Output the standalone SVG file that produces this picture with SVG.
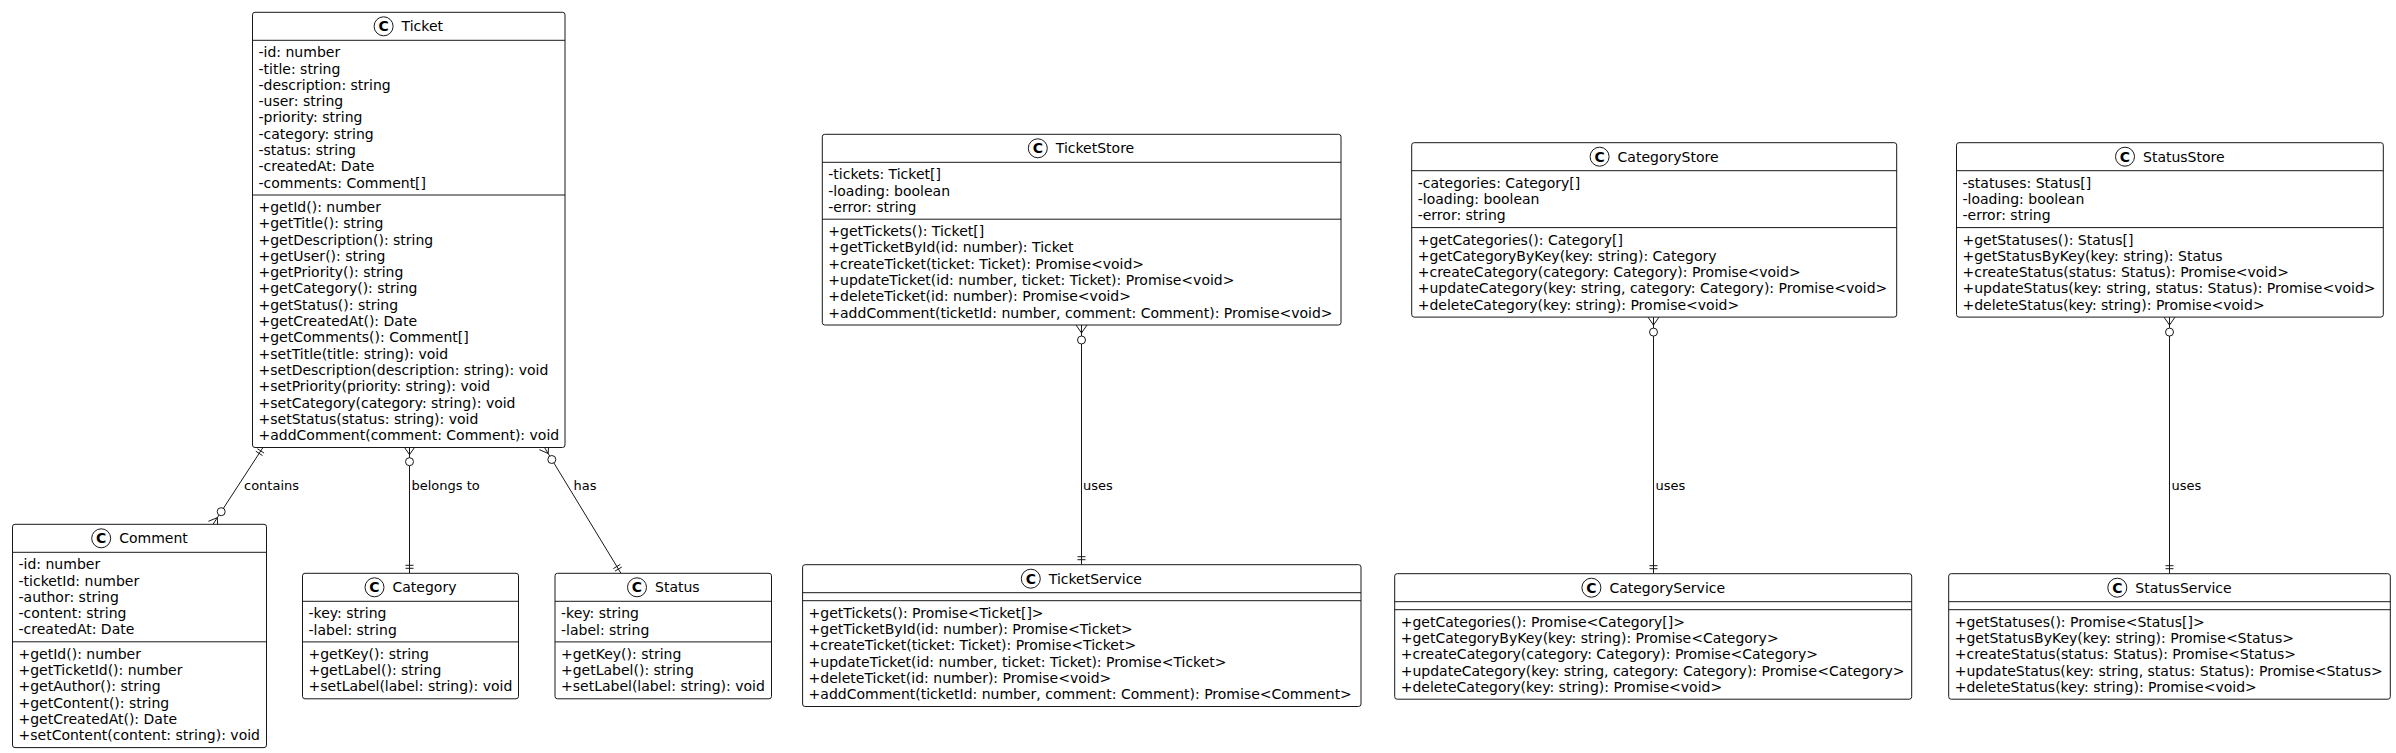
<svg xmlns="http://www.w3.org/2000/svg" width="2396" height="753" viewBox="0 0 2396 753">
<style>
.box{fill:#fff;stroke:#181818;stroke-width:1}
.sep{stroke:#181818;stroke-width:1}
.ic{fill:#fff;stroke:#181818;stroke-width:1}
.icl{font-family:"DejaVu Sans",sans-serif;font-size:14px;font-weight:bold;fill:#000;text-anchor:middle}
.ttl{font-family:"DejaVu Sans",sans-serif;font-size:14px;fill:#000}
.m{font-family:"DejaVu Sans",sans-serif;font-size:14px;fill:#000}
.lbl{font-family:"DejaVu Sans",sans-serif;font-size:13px;fill:#000}
.ln{stroke:#181818;stroke-width:1;fill:none}
.cir{fill:#fff;stroke:#181818;stroke-width:1}
</style>
<rect width="2396" height="753" fill="#fff"/>

<g id="connectors">
  <!-- contains -->
  <line class="ln" x1="263.5" y1="446.7" x2="213" y2="524.3"/>
  <line class="ln" x1="217.4" y1="517.6" x2="217.6" y2="527.3"/>
  <line class="ln" x1="217.4" y1="517.6" x2="208.4" y2="521.3"/>
  <circle class="cir" cx="221.2" cy="511.7" r="4"/>
  <line class="ln" x1="257.4" y1="448.7" x2="264.1" y2="453.1"/>
  <line class="ln" x1="255.8" y1="451.2" x2="262.5" y2="455.6"/>
  <text class="lbl" x="244" y="490">contains</text>

  <!-- belongs to -->
  <line class="ln" x1="409.5" y1="446.7" x2="409.5" y2="573.3"/>
  <line class="ln" x1="409.5" y1="454.7" x2="404" y2="446.7"/>
  <line class="ln" x1="409.5" y1="454.7" x2="415" y2="446.7"/>
  <circle class="cir" cx="409.5" cy="461.7" r="4"/>
  <line class="ln" x1="405.5" y1="568.3" x2="413.5" y2="568.3"/>
  <line class="ln" x1="405.5" y1="565.3" x2="413.5" y2="565.3"/>
  <text class="lbl" x="411.5" y="490">belongs to</text>

  <!-- has -->
  <line class="ln" x1="544" y1="446.7" x2="621" y2="573.3"/>
  <line class="ln" x1="548.2" y1="453.5" x2="548.7" y2="443.8"/>
  <line class="ln" x1="548.2" y1="453.5" x2="539.3" y2="449.6"/>
  <circle class="cir" cx="551.8" cy="459.5" r="4"/>
  <line class="ln" x1="615" y1="571.1" x2="621.8" y2="567"/>
  <line class="ln" x1="613.4" y1="568.6" x2="620.3" y2="564.4"/>
  <text class="lbl" x="573.5" y="490">has</text>

  <!-- TicketStore uses TicketService -->
  <line class="ln" x1="1081.5" y1="325" x2="1081.5" y2="564.7"/>
  <line class="ln" x1="1081.5" y1="333" x2="1076" y2="325"/>
  <line class="ln" x1="1081.5" y1="333" x2="1087" y2="325"/>
  <circle class="cir" cx="1081.5" cy="340" r="4"/>
  <line class="ln" x1="1077.5" y1="559.7" x2="1085.5" y2="559.7"/>
  <line class="ln" x1="1077.5" y1="556.7" x2="1085.5" y2="556.7"/>
  <text class="lbl" x="1083" y="490">uses</text>

  <!-- CategoryStore uses CategoryService -->
  <line class="ln" x1="1653.5" y1="317.1" x2="1653.5" y2="573.7"/>
  <line class="ln" x1="1653.5" y1="325.1" x2="1648" y2="317.1"/>
  <line class="ln" x1="1653.5" y1="325.1" x2="1659" y2="317.1"/>
  <circle class="cir" cx="1653.5" cy="332.1" r="4"/>
  <line class="ln" x1="1649.5" y1="568.7" x2="1657.5" y2="568.7"/>
  <line class="ln" x1="1649.5" y1="565.7" x2="1657.5" y2="565.7"/>
  <text class="lbl" x="1655.5" y="490">uses</text>

  <!-- StatusStore uses StatusService -->
  <line class="ln" x1="2169.5" y1="317.1" x2="2169.5" y2="573.7"/>
  <line class="ln" x1="2169.5" y1="325.1" x2="2164" y2="317.1"/>
  <line class="ln" x1="2169.5" y1="325.1" x2="2175" y2="317.1"/>
  <circle class="cir" cx="2169.5" cy="332.1" r="4"/>
  <line class="ln" x1="2165.5" y1="568.7" x2="2173.5" y2="568.7"/>
  <line class="ln" x1="2165.5" y1="565.7" x2="2173.5" y2="565.7"/>
  <text class="lbl" x="2171.5" y="490">uses</text>
</g>

<g id="Ticket" transform="translate(252.5,12.3)">
  <rect class="box" x="0" y="0" width="312.5" height="435.2" rx="2.5"/>
  <line class="sep" x1="0" y1="28" x2="312.5" y2="28"/>
  <line class="sep" x1="0" y1="182.7" x2="312.5" y2="182.7"/>
  <circle class="ic" cx="131.1" cy="14" r="9.5"/>
  <text class="icl" x="131.1" y="19">C</text>
  <text class="ttl" x="149.1" y="19">Ticket</text>
  <text class="m" x="6" y="45">-id: number</text>
  <text class="m" x="6" y="61.3">-title: string</text>
  <text class="m" x="6" y="77.6">-description: string</text>
  <text class="m" x="6" y="93.9">-user: string</text>
  <text class="m" x="6" y="110.2">-priority: string</text>
  <text class="m" x="6" y="126.5">-category: string</text>
  <text class="m" x="6" y="142.8">-status: string</text>
  <text class="m" x="6" y="159.1">-createdAt: Date</text>
  <text class="m" x="6" y="175.4">-comments: Comment[]</text>
  <text class="m" x="6" y="199.7">+getId(): number</text>
  <text class="m" x="6" y="216">+getTitle(): string</text>
  <text class="m" x="6" y="232.3">+getDescription(): string</text>
  <text class="m" x="6" y="248.6">+getUser(): string</text>
  <text class="m" x="6" y="264.9">+getPriority(): string</text>
  <text class="m" x="6" y="281.2">+getCategory(): string</text>
  <text class="m" x="6" y="297.5">+getStatus(): string</text>
  <text class="m" x="6" y="313.8">+getCreatedAt(): Date</text>
  <text class="m" x="6" y="330.1">+getComments(): Comment[]</text>
  <text class="m" x="6" y="346.4">+setTitle(title: string): void</text>
  <text class="m" x="6" y="362.7">+setDescription(description: string): void</text>
  <text class="m" x="6" y="379">+setPriority(priority: string): void</text>
  <text class="m" x="6" y="395.3">+setCategory(category: string): void</text>
  <text class="m" x="6" y="411.6">+setStatus(status: string): void</text>
  <text class="m" x="6" y="427.9">+addComment(comment: Comment): void</text>
</g>

<g id="Comment" transform="translate(12.5,524.3)">
  <rect class="box" x="0" y="0" width="254" height="223.3" rx="2.5"/>
  <line class="sep" x1="0" y1="28" x2="254" y2="28"/>
  <line class="sep" x1="0" y1="117.5" x2="254" y2="117.5"/>
  <circle class="ic" cx="88.7" cy="14" r="9.5"/>
  <text class="icl" x="88.7" y="19">C</text>
  <text class="ttl" x="106.7" y="19">Comment</text>
  <text class="m" x="6" y="45">-id: number</text>
  <text class="m" x="6" y="61.3">-ticketId: number</text>
  <text class="m" x="6" y="77.6">-author: string</text>
  <text class="m" x="6" y="93.9">-content: string</text>
  <text class="m" x="6" y="110.2">-createdAt: Date</text>
  <text class="m" x="6" y="134.5">+getId(): number</text>
  <text class="m" x="6" y="150.8">+getTicketId(): number</text>
  <text class="m" x="6" y="167.1">+getAuthor(): string</text>
  <text class="m" x="6" y="183.4">+getContent(): string</text>
  <text class="m" x="6" y="199.7">+getCreatedAt(): Date</text>
  <text class="m" x="6" y="216">+setContent(content: string): void</text>
</g>

<g id="Category" transform="translate(302.5,573.3)">
  <rect class="box" x="0" y="0" width="216" height="125.5" rx="2.5"/>
  <line class="sep" x1="0" y1="28" x2="216" y2="28"/>
  <line class="sep" x1="0" y1="68.6" x2="216" y2="68.6"/>
  <circle class="ic" cx="72" cy="14" r="9.5"/>
  <text class="icl" x="72" y="19">C</text>
  <text class="ttl" x="90" y="19">Category</text>
  <text class="m" x="6" y="45">-key: string</text>
  <text class="m" x="6" y="61.3">-label: string</text>
  <text class="m" x="6" y="85.6">+getKey(): string</text>
  <text class="m" x="6" y="101.9">+getLabel(): string</text>
  <text class="m" x="6" y="118.2">+setLabel(label: string): void</text>
</g>

<g id="Status" transform="translate(555,573.3)">
  <rect class="box" x="0" y="0" width="216.5" height="125.5" rx="2.5"/>
  <line class="sep" x1="0" y1="28" x2="216.5" y2="28"/>
  <line class="sep" x1="0" y1="68.6" x2="216.5" y2="68.6"/>
  <circle class="ic" cx="82" cy="14" r="9.5"/>
  <text class="icl" x="82" y="19">C</text>
  <text class="ttl" x="100" y="19">Status</text>
  <text class="m" x="6" y="45">-key: string</text>
  <text class="m" x="6" y="61.3">-label: string</text>
  <text class="m" x="6" y="85.6">+getKey(): string</text>
  <text class="m" x="6" y="101.9">+getLabel(): string</text>
  <text class="m" x="6" y="118.2">+setLabel(label: string): void</text>
</g>

<g id="TicketStore" transform="translate(822.3,134.3)">
  <rect class="box" x="0" y="0" width="518.7" height="190.7" rx="2.5"/>
  <line class="sep" x1="0" y1="28" x2="518.7" y2="28"/>
  <line class="sep" x1="0" y1="84.9" x2="518.7" y2="84.9"/>
  <circle class="ic" cx="215.5" cy="14" r="9.5"/>
  <text class="icl" x="215.5" y="19">C</text>
  <text class="ttl" x="233.5" y="19">TicketStore</text>
  <text class="m" x="6" y="45">-tickets: Ticket[]</text>
  <text class="m" x="6" y="61.3">-loading: boolean</text>
  <text class="m" x="6" y="77.6">-error: string</text>
  <text class="m" x="6" y="101.9">+getTickets(): Ticket[]</text>
  <text class="m" x="6" y="118.2">+getTicketById(id: number): Ticket</text>
  <text class="m" x="6" y="134.5">+createTicket(ticket: Ticket): Promise&lt;void&gt;</text>
  <text class="m" x="6" y="150.8">+updateTicket(id: number, ticket: Ticket): Promise&lt;void&gt;</text>
  <text class="m" x="6" y="167.1">+deleteTicket(id: number): Promise&lt;void&gt;</text>
  <text class="m" x="6" y="183.4">+addComment(ticketId: number, comment: Comment): Promise&lt;void&gt;</text>
</g>

<g id="TicketService" transform="translate(802.6,564.7)">
  <rect class="box" x="0" y="0" width="558.4" height="141.8" rx="2.5"/>
  <line class="sep" x1="0" y1="28" x2="558.4" y2="28"/>
  <line class="sep" x1="0" y1="36" x2="558.4" y2="36"/>
  <circle class="ic" cx="228.2" cy="14" r="9.5"/>
  <text class="icl" x="228.2" y="19">C</text>
  <text class="ttl" x="246.2" y="19">TicketService</text>
  <text class="m" x="6" y="53">+getTickets(): Promise&lt;Ticket[]&gt;</text>
  <text class="m" x="6" y="69.3">+getTicketById(id: number): Promise&lt;Ticket&gt;</text>
  <text class="m" x="6" y="85.6">+createTicket(ticket: Ticket): Promise&lt;Ticket&gt;</text>
  <text class="m" x="6" y="101.9">+updateTicket(id: number, ticket: Ticket): Promise&lt;Ticket&gt;</text>
  <text class="m" x="6" y="118.2">+deleteTicket(id: number): Promise&lt;void&gt;</text>
  <text class="m" x="6" y="134.5">+addComment(ticketId: number, comment: Comment): Promise&lt;Comment&gt;</text>
</g>

<g id="CategoryStore" transform="translate(1411.7,142.7)">
  <rect class="box" x="0" y="0" width="485" height="174.4" rx="2.5"/>
  <line class="sep" x1="0" y1="28" x2="485" y2="28"/>
  <line class="sep" x1="0" y1="84.9" x2="485" y2="84.9"/>
  <circle class="ic" cx="187.9" cy="14" r="9.5"/>
  <text class="icl" x="187.9" y="19">C</text>
  <text class="ttl" x="205.9" y="19">CategoryStore</text>
  <text class="m" x="6" y="45">-categories: Category[]</text>
  <text class="m" x="6" y="61.3">-loading: boolean</text>
  <text class="m" x="6" y="77.6">-error: string</text>
  <text class="m" x="6" y="101.9">+getCategories(): Category[]</text>
  <text class="m" x="6" y="118.2">+getCategoryByKey(key: string): Category</text>
  <text class="m" x="6" y="134.5">+createCategory(category: Category): Promise&lt;void&gt;</text>
  <text class="m" x="6" y="150.8">+updateCategory(key: string, category: Category): Promise&lt;void&gt;</text>
  <text class="m" x="6" y="167.1">+deleteCategory(key: string): Promise&lt;void&gt;</text>
</g>

<g id="StatusStore" transform="translate(1956.5,142.7)">
  <rect class="box" x="0" y="0" width="426.8" height="174.4" rx="2.5"/>
  <line class="sep" x1="0" y1="28" x2="426.8" y2="28"/>
  <line class="sep" x1="0" y1="84.9" x2="426.8" y2="84.9"/>
  <circle class="ic" cx="168.5" cy="14" r="9.5"/>
  <text class="icl" x="168.5" y="19">C</text>
  <text class="ttl" x="186.5" y="19">StatusStore</text>
  <text class="m" x="6" y="45">-statuses: Status[]</text>
  <text class="m" x="6" y="61.3">-loading: boolean</text>
  <text class="m" x="6" y="77.6">-error: string</text>
  <text class="m" x="6" y="101.9">+getStatuses(): Status[]</text>
  <text class="m" x="6" y="118.2">+getStatusByKey(key: string): Status</text>
  <text class="m" x="6" y="134.5">+createStatus(status: Status): Promise&lt;void&gt;</text>
  <text class="m" x="6" y="150.8">+updateStatus(key: string, status: Status): Promise&lt;void&gt;</text>
  <text class="m" x="6" y="167.1">+deleteStatus(key: string): Promise&lt;void&gt;</text>
</g>

<g id="CategoryService" transform="translate(1394.7,573.7)">
  <rect class="box" x="0" y="0" width="517" height="125.5" rx="2.5"/>
  <line class="sep" x1="0" y1="28" x2="517" y2="28"/>
  <line class="sep" x1="0" y1="36" x2="517" y2="36"/>
  <circle class="ic" cx="196.7" cy="14" r="9.5"/>
  <text class="icl" x="196.7" y="19">C</text>
  <text class="ttl" x="214.7" y="19">CategoryService</text>
  <text class="m" x="6" y="53">+getCategories(): Promise&lt;Category[]&gt;</text>
  <text class="m" x="6" y="69.3">+getCategoryByKey(key: string): Promise&lt;Category&gt;</text>
  <text class="m" x="6" y="85.6">+createCategory(category: Category): Promise&lt;Category&gt;</text>
  <text class="m" x="6" y="101.9">+updateCategory(key: string, category: Category): Promise&lt;Category&gt;</text>
  <text class="m" x="6" y="118.2">+deleteCategory(key: string): Promise&lt;void&gt;</text>
</g>

<g id="StatusService" transform="translate(1948.7,573.7)">
  <rect class="box" x="0" y="0" width="441.6" height="125.5" rx="2.5"/>
  <line class="sep" x1="0" y1="28" x2="441.6" y2="28"/>
  <line class="sep" x1="0" y1="36" x2="441.6" y2="36"/>
  <circle class="ic" cx="168.6" cy="14" r="9.5"/>
  <text class="icl" x="168.6" y="19">C</text>
  <text class="ttl" x="186.6" y="19">StatusService</text>
  <text class="m" x="6" y="53">+getStatuses(): Promise&lt;Status[]&gt;</text>
  <text class="m" x="6" y="69.3">+getStatusByKey(key: string): Promise&lt;Status&gt;</text>
  <text class="m" x="6" y="85.6">+createStatus(status: Status): Promise&lt;Status&gt;</text>
  <text class="m" x="6" y="101.9">+updateStatus(key: string, status: Status): Promise&lt;Status&gt;</text>
  <text class="m" x="6" y="118.2">+deleteStatus(key: string): Promise&lt;void&gt;</text>
</g>
</svg>
